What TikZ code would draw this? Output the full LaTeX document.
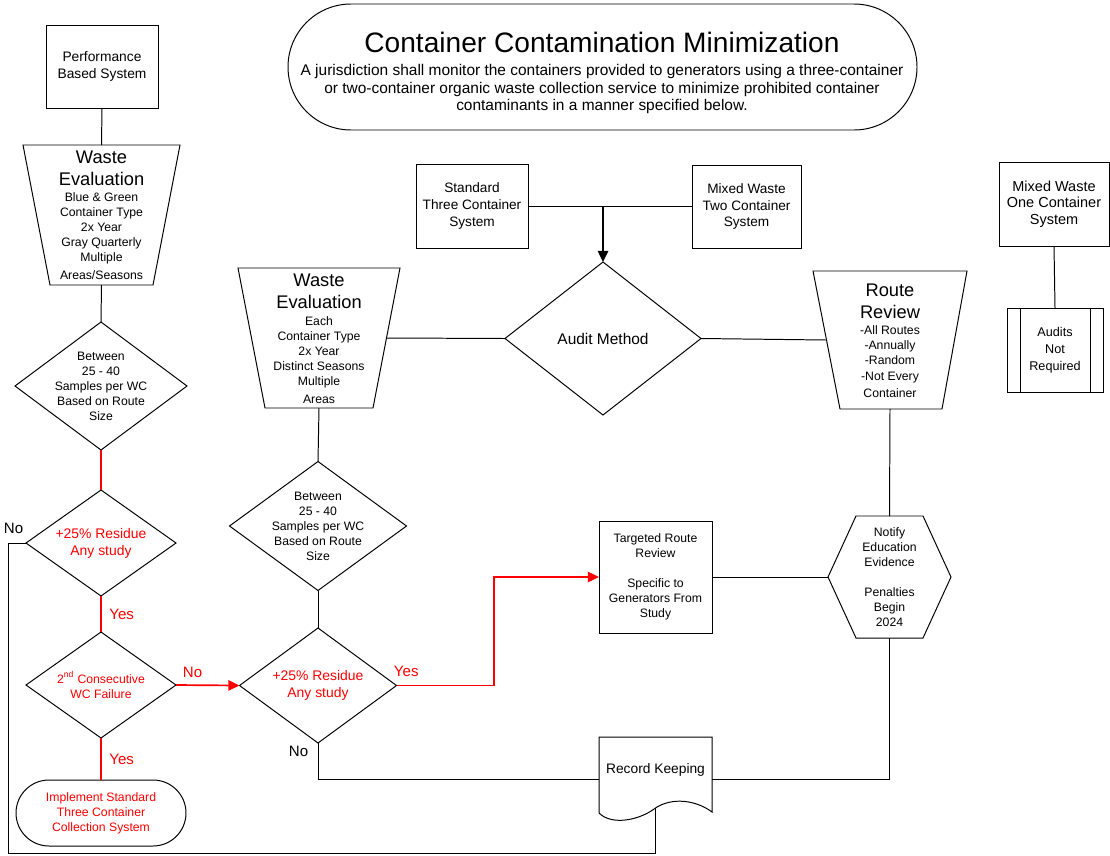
\documentclass[tikz,border=0pt]{standalone}
\usepackage{fontspec}
\setmainfont{Liberation Sans}
\usetikzlibrary{arrows.meta,shapes.geometric,shapes.misc}

\begin{document}
\begin{tikzpicture}[x=0.025cm, y=-0.025cm,
  every node/.style={inner sep=0pt, outer sep=0pt},
  block/.style 2 args={draw, line width=0.7pt, rectangle, align=center,
    minimum width={#1*\pix}, minimum height={#2*\pix}},
  decide/.style 2 args={draw, line width=0.7pt, diamond,
    minimum width={#1*\pix}, minimum height={#2*\pix}},
  terminal/.style 2 args={draw, line width=0.7pt, rounded rectangle, align=center,
    minimum width={#1*\pix}, minimum height={#2*\pix}},
  frame/.style 2 args={minimum width={#1*\pix}, minimum height={#2*\pix}},
  detail/.style={font=\fontsize{8.7}{10.7}\selectfont, align=center},
  boxtext/.style={font=\fontsize{9.7}{12}\selectfont, align=center},
  headtext/.style={font=\fontsize{13}{15.6}\selectfont, align=center},
  residue/.style={font=\fontsize{9.9}{12}\selectfont, align=center},
  lab/.style={font=\fontsize{10.7}{12}\selectfont, inner sep=2pt},
  conn/.style={line width=0.7pt},
  redline/.style={line width=0.9pt, flowred},
  redarrow/.style={line width=1.2pt, flowred, -{Triangle[length=2.8mm, width=2.6mm]}},
]
  \def\pix{0.025cm}
  \def\slant{27}
  \colorlet{flowred}{red}

  \useasboundingbox (0,0) rectangle (1110,855);

  %--- Title ---
  \node[terminal={629}{126}] (title) at (602.5,67) {};
  \node[font=\fontsize{20}{24}\selectfont] (titletext) at (602,42) {Container Contamination Minimization};
  \node[font=\fontsize{11}{12.8}\selectfont, align=center] (titledesc) at (602,89)
    {A jurisdiction shall monitor the containers provided to generators using a three-container\\
     or two-container organic waste collection service to minimize prohibited container\\
     contaminants in a manner specified below.};

  %--- Performance based column ---
  \node[block={112}{83}, font=\fontsize{9.8}{12}\selectfont] (pbs) at (102,66.5) {Performance\\Based System};
  \node[frame={157}{140}] (we1) at (101.5,215) {};
  \draw[conn] (we1.north west) -- (we1.north east) -- ([xshift={-\slant*\pix}]we1.south east)
    -- ([xshift={\slant*\pix}]we1.south west) -- cycle;
  \node[headtext] (we1head) at (101.5,168) {Waste\\Evaluation};
  \node[detail] (we1body) at (101.5,236)
    {Blue \& Green\\Container Type\\2x Year\\Gray Quarterly\\Multiple\\[2pt]Areas/Seasons};

  \node[decide={172}{128}] (d1) at (101,386) {};
  \node[detail] (d1text) at (d1) {Between\\25 - 40\\Samples per WC\\Based on Route\\Size};

  \node[decide={150}{106}] (d2) at (101,543) {};
  \node[residue, text=flowred] (d2text) at (d2) {+25\% Residue\\Any study};

  \node[decide={150}{106}] (d3) at (101,685) {};
  \node[detail, text=flowred] (d3text) at (d3) {2\textsuperscript{nd} Consecutive\\WC Failure};

  \node[terminal={170}{66}, detail, text=flowred] (impl) at (101,813)
    {Implement Standard\\Three Container\\Collection System};

  %--- Audit method column ---
  \node[block={112}{84}, boxtext] (std) at (472,206) {Standard\\Three Container\\System};
  \node[block={109}{83}, boxtext] (mix2) at (746.5,206.5) {Mixed Waste\\Two Container\\System};
  \node[decide={196}{153}] (audit) at (603,338.5) {};
  \node[font=\fontsize{11}{13}\selectfont] (audittext) at (audit) {Audit Method};

  \node[frame={162}{140}] (we2) at (319,338) {};
  \draw[conn] (we2.north west) -- (we2.north east) -- ([xshift={-\slant*\pix}]we2.south east)
    -- ([xshift={\slant*\pix}]we2.south west) -- cycle;
  \node[headtext] (we2head) at (319,291) {Waste\\Evaluation};
  \node[detail] (we2body) at (319,360)
    {Each\\Container Type\\2x Year\\Distinct Seasons\\Multiple\\[2pt]Areas};

  \node[decide={177}{129}] (d5) at (318,526) {};
  \node[detail] (d5text) at (d5) {Between\\25 - 40\\Samples per WC\\Based on Route\\Size};

  \node[decide={157}{115}] (d4) at (318,685.5) {};
  \node[residue, text=flowred] (d4text) at (d4) {+25\% Residue\\Any study};

  \node[block={113}{112}, detail] (trr) at (655.5,577)
    {Targeted Route\\Review\\[10.7pt]Specific to\\Generators From\\Study};

  %--- Record keeping (document) ---
  \node[frame={113}{84}] (rec) at (655.5,779) {};
  \node[font=\fontsize{9.8}{12}\selectfont] (rectext) at (655.5,770) {Record Keeping};
  \draw[conn] (rec.north west) -- (rec.north east) -- (712,812)
    .. controls (696,800) and (672,797) .. (655.5,808)
    .. controls (640,820) and (612,826) .. (599,813) -- cycle;

  %--- Route review column ---
  \node[frame={154}{138}] (rr) at (890,340) {};
  \draw[conn] (rr.north west) -- (rr.north east) -- ([xshift={-25*\pix}]rr.south east)
    -- ([xshift={27*\pix}]rr.south west) -- cycle;
  \node[headtext] (rrhead) at (890,301.5) {Route\\Review};
  \node[detail] (rrbody) at (890,362)
    {-All Routes\\-Annually\\-Random\\-Not Every\\[2pt]Container};

  \node[frame={123}{122}, detail] (notify) at (889.5,577)
    {Notify\\Education\\Evidence\\[10.7pt]Penalties\\Begin\\2024};
  \draw[conn] (notify.west) -- ([xshift={28*\pix}]notify.north west)
    -- ([xshift={-28*\pix}]notify.north east) -- (notify.east)
    -- ([xshift={-28*\pix}]notify.south east) -- ([xshift={28*\pix}]notify.south west) -- cycle;

  %--- One container system ---
  \node[block={110}{84}, font=\fontsize{10.3}{11.7}\selectfont] (mix1) at (1054,204) {Mixed Waste\\One Container\\System};
  \node[block={96}{84}, font=\fontsize{9}{12}\selectfont] (anr) at (1055,350) {Audits\\Not\\Required};
  \draw[conn] ([xshift={13*\pix}]anr.north west) -- ([xshift={13*\pix}]anr.south west);
  \draw[conn] ([xshift={-13*\pix}]anr.north east) -- ([xshift={-13*\pix}]anr.south east);

  %--- Connectors ---
  \coordinate (loopcorner) at (8,853);
  \coordinate (recbottom) at (655.5,808);
  \coordinate (yesbend) at (494,685.5);

  \draw[conn] (pbs.south) -- (we1.north);
  \draw[conn] (we1.south) -- (d1.north);
  \draw[redline] (d1.south) -- (d2.north);
  \draw[redline] (d2.south) -- node[lab, text=flowred, right, xshift=4pt] {Yes} (d3.north);
  \draw[redarrow] (d3.east) -- node[lab, text=flowred, above, pos=0.26, yshift=3pt] {No} (d4.west);
  \draw[redline] (d3.south) -- node[lab, text=flowred, right, xshift=4pt] {Yes} (impl.north);
  \draw[conn] (d2.west) node[lab, above left, yshift=5pt] {No} -| (loopcorner) -| (recbottom);

  \draw[conn] (std.east) -- (std.east -| mix2.west);
  \draw[conn, line width=1.3pt, -{Triangle[length=2.8mm, width=2.6mm]}] (std.east -| audit.north) -- (audit.north);
  \draw[conn] ([xshift={-13.5*\pix}]we2.east) -- (audit.west);
  \draw[conn] (audit.east) -- ([xshift={13*\pix}]rr.west);
  \draw[conn] (we2.south) -- (d5.north);
  \draw[conn] (d5.south) -- (d4.north);
  \draw[redarrow] (d4.east) -- node[lab, text=flowred, above, pos=0.1, yshift=4pt] {Yes} (yesbend) |- (trr.west);
  \draw[conn] (d4.south) node[lab, below left, xshift=-5pt] {No} |- (rec.west);

  \draw[conn] (rr.south) -- (notify.north);
  \draw[conn] (trr.east) -- (notify.west);
  \draw[conn] (notify.south) |- (rec.east);
  \draw[conn] (mix1.south) -- (anr.north);

\end{tikzpicture}
\end{document}
